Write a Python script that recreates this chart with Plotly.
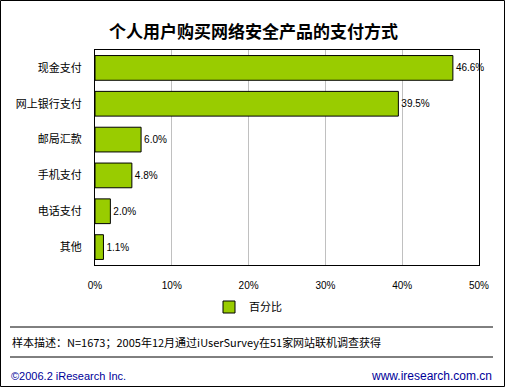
import plotly.graph_objects as go

categories = ["现金支付", "网上银行支付", "邮局汇款", "手机支付", "电话支付", "其他"]
values = [46.6, 39.5, 6.0, 4.8, 2.0, 1.1]
value_labels = ["46.6%", "39.5%", "6.0%", "4.8%", "2.0%", "1.1%"]
x_tickvals = [0, 10, 20, 30, 40, 50]
x_ticktext = ["0%", "10%", "20%", "30%", "40%", "50%"]
series_name = "百分比"
title_text = "个人用户购买网络安全产品的支付方式"
note_text = "样本描述：N=1673；2005年12月通过iUserSurvey在51家网站联机调查获得"
footer_left = "©2006.2 iResearch Inc."
footer_right = "www.iresearch.com.cn"

W, H = 505, 387
L, R, T, B = 95, 479, 50, 265


def px(x):
    return (x - L) / (R - L)


def py(y):
    return (B - y) / (B - T)


CJK = "Noto Sans CJK SC"
LAT = "Liberation Sans"

fig = go.Figure()
fig.add_trace(go.Bar(
    y=categories, x=values, orientation="h", name=series_name,
    marker=dict(color="#99CC00", line=dict(color="#000000", width=1)),
    text=value_labels, textposition="outside", cliponaxis=False,
    textfont=dict(family=LAT, size=10, color="#000000"),
    width=0.69,
))

fig.update_layout(
    width=W, height=H, autosize=False,
    margin=dict(l=L, r=W - R, t=T, b=H - B, pad=0),
    paper_bgcolor="#FFFFFF", plot_bgcolor="#FFFFFF",
    showlegend=True,
    legend=dict(orientation="h", x=px(209), y=py(307), xanchor="left", yanchor="middle",
                font=dict(family=CJK, size=11, color="#000000"),
                itemwidth=30, bgcolor="rgba(0,0,0,0)"),
    xaxis=dict(range=[0, 50], tickvals=x_tickvals, ticktext=x_ticktext,
               showgrid=True, gridcolor="#C0C0C0", gridwidth=1,
               showline=True, linecolor="#000000", linewidth=1, mirror=True,
               zeroline=False, ticks="", ticklabelstandoff=11,
               tickfont=dict(family=LAT, size=10, color="#000000"), fixedrange=True),
    yaxis=dict(categoryorder="array", categoryarray=categories, autorange="reversed",
               showgrid=False, showline=True, linecolor="#000000", linewidth=1, mirror=True,
               ticks="", ticklabelstandoff=10,
               tickfont=dict(family=CJK, size=11, color="#000000"), fixedrange=True),
    bargap=0.31,
)

annotations = [
    dict(text="<b>" + title_text + "</b>", x=px(253), y=py(31), xref="paper", yref="paper",
         xanchor="center", yanchor="middle", showarrow=False,
         font=dict(family=CJK, size=17, color="#000000")),
    dict(text=note_text, x=px(10), y=py(342), xref="paper", yref="paper",
         xanchor="left", yanchor="middle", showarrow=False,
         font=dict(family=CJK, size=11, color="#000000")),
    dict(text=footer_left, x=px(9), y=py(376), xref="paper", yref="paper",
         xanchor="left", yanchor="middle", showarrow=False,
         font=dict(family=LAT, size=11, color="#000099")),
    dict(text=footer_right, x=px(494), y=py(376), xref="paper", yref="paper",
         xanchor="right", yanchor="middle", showarrow=False,
         font=dict(family=LAT, size=12, color="#000099")),
]
fig.update_layout(annotations=annotations)

shapes = [
    dict(type="rect", xref="paper", yref="paper", x0=px(0.5), x1=px(W - 0.5),
         y0=py(0.5), y1=py(H - 0.5), line=dict(color="#000000", width=1)),
    dict(type="line", xref="paper", yref="paper", x0=px(10), x1=px(493),
         y0=py(327), y1=py(327), line=dict(color="#000000", width=1)),
    dict(type="line", xref="paper", yref="paper", x0=px(10), x1=px(493),
         y0=py(357), y1=py(357), line=dict(color="#000000", width=1)),
]
fig.update_layout(shapes=shapes)

fig.write_html("out.html", config={"displayModeBar": False, "staticPlot": True},
               post_script="document.body.style.margin='0';document.body.style.overflow='hidden';")
